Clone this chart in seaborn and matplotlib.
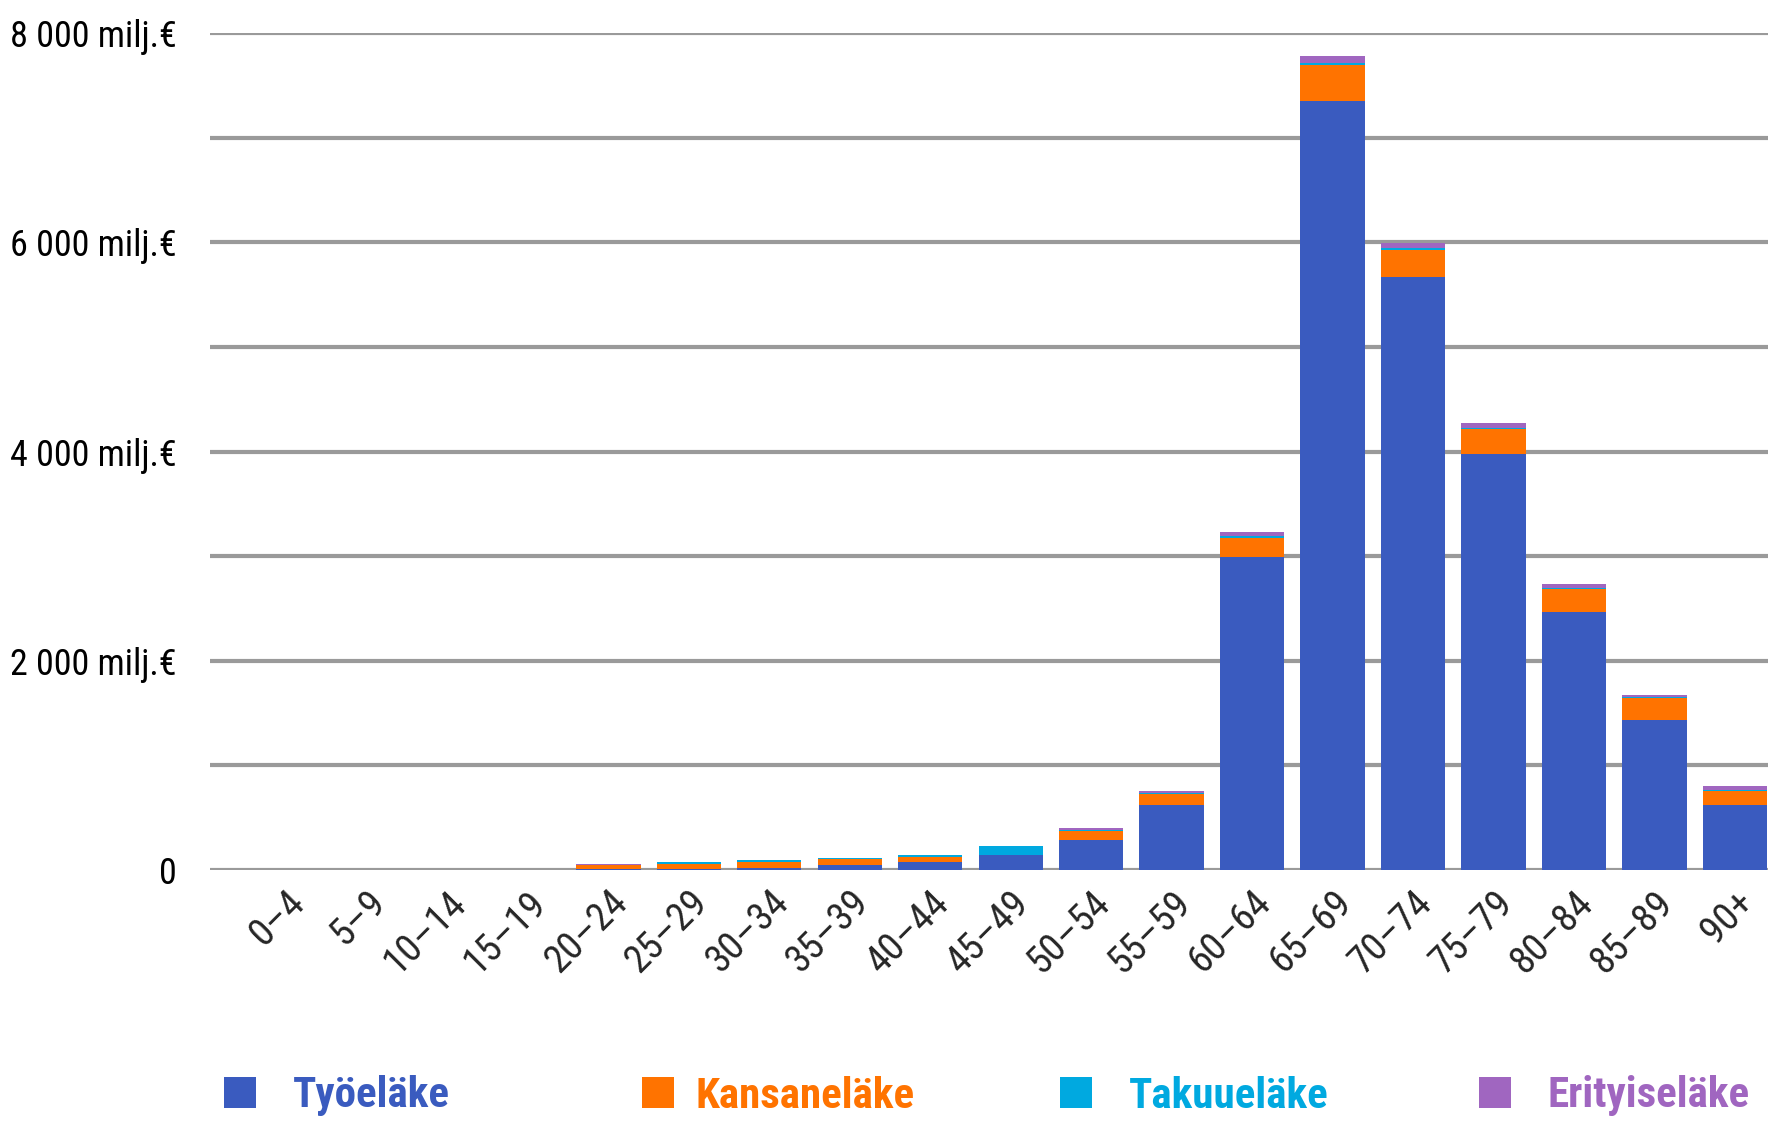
import numpy as np
import pandas as pd
import matplotlib
import matplotlib.pyplot as plt
from matplotlib import font_manager
from matplotlib.patches import Patch
from matplotlib.ticker import MultipleLocator, FuncFormatter
import seaborn as sns

# age groups and pension expenditure by type (milj. EUR)
ages = ['0–4', '5–9', '10–14', '15–19', '20–24', '25–29', '30–34', '35–39', '40–44',
        '45–49', '50–54', '55–59', '60–64', '65–69', '70–74', '75–79', '80–84', '85–89', '90+']
tyoelake = [0, 0, 0, 0, 5, 6, 15, 45, 76, 143, 287, 622, 2992, 7351, 5668, 3975, 2466, 1430, 618]
kansanelake = [0, 0, 0, 0, 40, 55, 62, 57, 51, 5, 89, 105, 182, 341, 258, 240, 220, 210, 137]
takuuelake = [0, 0, 0, 0, 2, 12, 17, 13, 16, 81, 6, 10, 17, 19, 19, 12, 12, 10, 8]
erityiselake = [0, 0, 0, 0, 10, 3, 2, 0, 0, 0, 20, 15, 40, 70, 45, 41, 34, 22, 37]

names = ['Työeläke', 'Kansaneläke', 'Takuueläke', 'Erityiseläke']
colors = ['#3A5BBF', '#FF7300', '#00A9E0', '#A066C0']

df = pd.DataFrame({'ika': ages, names[0]: tyoelake, names[1]: kansanelake,
                   names[2]: takuuelake, names[3]: erityiselake})
cum = df[names].cumsum(axis=1)

# look for a condensed face, the original uses a narrow font
avail = {f.name for f in font_manager.fontManager.ttflist}
narrow = None
for cand in ['Liberation Sans Narrow', 'DejaVu Sans Condensed', 'Roboto Condensed',
             'Open Sans Condensed', 'Noto Sans Condensed']:
    if cand in avail:
        narrow = cand
        break
if narrow is None:
    narrow = 'DejaVu Sans'

sns.set_theme(style='white')
plt.rcParams['font.family'] = [narrow, 'DejaVu Sans']
plt.rcParams['font.stretch'] = 'condensed'

fig = plt.figure(figsize=(17.83, 11.22), dpi=100)
ax = fig.add_axes([210 / 1783, 1 - 870 / 1122, (1768 - 210) / 1783, (870 - 33) / 1122])

# stacked bars: draw the tallest cumulative first, then each lower layer on top
for name, col in zip(names[::-1], colors[::-1]):
    sns.barplot(x=df['ika'], y=cum[name], color=col, width=0.8, saturation=1,
                linewidth=0, edgecolor='none', ax=ax, zorder=3)

ax.set_xlim(-0.95, len(ages) - 0.59)
ax.set_ylim(0, 8000)
ax.yaxis.set_major_locator(MultipleLocator(1000))
ax.yaxis.set_major_formatter(FuncFormatter(
    lambda v, p: '0' if v == 0 else ('{:,.0f} milj.€'.format(v).replace(',', ' ') if v % 2000 == 0 else '')))
ax.grid(axis='y', color='#9a9a9a', lw=3, zorder=0)
for s in ax.spines.values():
    s.set_visible(False)
ax.set_xlabel('')
ax.set_ylabel('')
ax.tick_params(axis='y', length=0, pad=24, labelsize=26)
ax.tick_params(axis='x', length=0, pad=10, labelsize=28)
plt.setp(ax.get_xticklabels(), rotation=45, ha='right', rotation_mode='anchor')
plt.setp(ax.get_yticklabels(), color='black')

# legend entries sit at fixed, evenly spaced spots along the bottom
leg_x = [224, 642, 1060, 1479]
leg_pad = [0.85, 0.5, 0.85, 0.85]
for name, col, lx, tp in zip(names, colors, leg_x, leg_pad):
    leg = fig.legend([Patch(facecolor=col, edgecolor='none')], [name], loc='center left',
                     bbox_to_anchor=(lx / 1783, 1 - 1096 / 1122), frameon=False,
                     borderpad=0, borderaxespad=0, handlelength=0.74, handleheight=0.74,
                     handletextpad=tp, labelcolor=[col],
                     prop={'family': [narrow, 'DejaVu Sans'], 'weight': 'bold', 'size': 31,
                           'stretch': 'condensed'})

fig.savefig('out.png', dpi=100)
